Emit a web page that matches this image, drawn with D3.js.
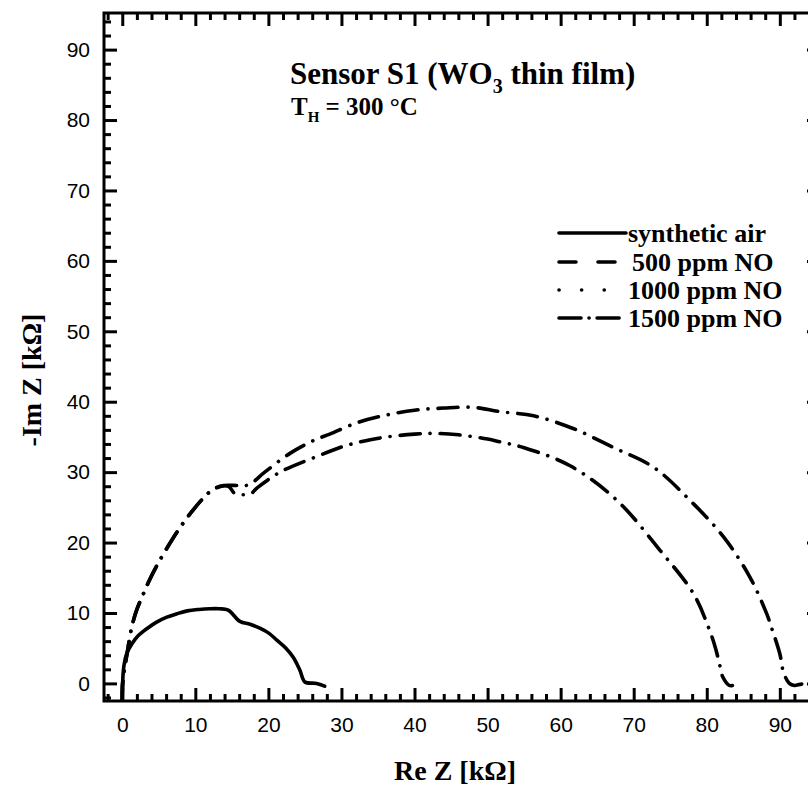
<!DOCTYPE html>
<html>
<head>
<meta charset="utf-8">
<script src="https://cdn.jsdelivr.net/npm/d3@7"></script>
<style>
  body { margin: 0; background: #fff; }
  svg { display: block; }
  .tick text { font-family: "Liberation Sans", Arial, sans-serif; font-size: 21px; fill: #000; }
  .tick line { stroke: #000; stroke-width: 3; }
  .serif { font-family: "Liberation Serif", "Times New Roman", serif; font-weight: bold; fill: #000; }
</style>
</head>
<body>
<div id="chart"></div>
<script>
// Nyquist data: [Re Z, -Im Z] in kOhm
var airData = [[0,-2.5],[0.05,0],[0.2,2.3],[0.6,4.2],[1.3,5.6],[2.2,6.8],[3.4,7.8],[4.7,8.7],
  [6.1,9.4],[7.5,9.9],[8.9,10.3],[10.5,10.5],[12,10.6],[13.3,10.6],[14.5,10.4],[16.1,8.8],
  [17.5,8.4],[18.9,7.8],[20.1,7.1],[21.2,6.1],[22.4,5.0],[23.4,3.7],[24.3,1.9],[25,0.2],
  [26.6,0.0],[27.7,-0.4]];

var noInner = [[0,-2.5],[0.05,0],[0.3,2],[0.7,4.5],[1.3,8],[2,10.5],[2.8,12.5],[3.6,14.4],
  [4.75,16.75],[6,19],[7.5,21.5],[9,23.7],[11,26.2],[12.5,27.6],[14.5,28],[15.4,27],
  [17.5,26.9],[18.5,27.8],[21.6,30.0],[26.6,32.2],[29.8,33.5],[33,34.4],[36.2,35.0],
  [40,35.4],[42.5,35.5],[46,35.3],[50,34.7],[51.7,34.3],[54.9,33.5],[61.3,30.9],
  [67.7,26],[73.6,18.9],[78.2,12.7],[80.4,7.5],[81.2,5.0],[81.8,2.5],[82.2,0.9],
  [83.1,-0.3],[83.5,-0.3]];

var noOuter = [[0,-2.5],[0.05,0],[0.3,2],[0.7,4.5],[1.3,8],[2,10.5],[2.8,12.5],[3.6,14.4],
  [4.75,16.75],[6,19],[7.5,21.5],[9,23.7],[11,26.2],[12.5,27.6],[13.9,28.1],[16,28.1],
  [17.3,28.2],[19.5,30],[23,32.7],[26.2,34.5],[28.4,35.4],[32.1,37.0],[35.7,38.0],
  [40,38.8],[44,39.1],[48,39.2],[51.7,38.6],[56.3,38.0],[61.7,36.2],[67.2,33.5],
  [72.7,30.7],[77.7,26.0],[82.3,20.8],[85.9,15.1],[88.2,9.9],[88.9,7.8],[90,4.2],
  [90.5,1.6],[91.3,0],[92,-0.3],[93,-0.1],[94,-0.3]];

var legendLabels = ["synthetic air", "500 ppm NO", "1000 ppm NO", "1500 ppm NO"];
var majorTicks = [0,10,20,30,40,50,60,70,80,90];
var minorTicks = [-2,2,4,6,8,12,14,16,18,22,24,26,28,32,34,36,38,42,44,46,48,
  52,54,56,58,62,64,66,68,72,74,76,78,82,84,86,88,92,94];

var svgWidth = 808;
var svgHeight = 787;
var plot = { left: 104, right: 820, top: 13, bottom: 701 };

var svg = d3.select("#chart")
  .append("svg")
  .attr("width", svgWidth)
  .attr("height", svgHeight);

var x = d3.scaleLinear().domain([-2.5, 95.5]).range([plot.left, plot.right]);
var y = d3.scaleLinear().domain([-2.5, 95.2]).range([plot.bottom, plot.top]);

svg.append("defs").append("clipPath").attr("id", "clip")
  .append("rect")
  .attr("x", plot.left).attr("y", plot.top)
  .attr("width", plot.right - plot.left).attr("height", plot.bottom - plot.top);

// line styles
var styles = {
  solid: null,
  dash: "17 22",
  dot: "0.1 22.5",
  dashdot: "20 10 0.1 10"
};
var legendStyles = [styles.solid, styles.dash, styles.dot, "22 8 0.1 8"];

var lineAny = d3.line().x(d => x(d[0])).y(d => y(d[1])).curve(d3.curveCatmullRom.alpha(0.5));

var curves = svg.append("g").attr("clip-path", "url(#clip)");

[[noOuter, styles.dashdot], [noInner, styles.dashdot], [airData, styles.solid]].forEach(function(s) {
  curves.append("path")
    .datum(s[0])
    .attr("d", lineAny)
    .attr("fill", "none")
    .attr("stroke", "#000")
    .attr("stroke-width", 3.6)
    .attr("stroke-linecap", "round")
    .attr("stroke-linejoin", "round")
    .attr("stroke-dasharray", s[1]);
});

// axes: inward ticks, majors and minors
function addAxis(axisFn, scale, transform, labels) {
  var g = svg.append("g").attr("transform", transform);
  g.call(axisFn(scale).tickValues(minorTicks).tickSize(-7).tickFormat(""));
  var gm = svg.append("g").attr("transform", transform);
  var ax = axisFn(scale).tickValues(majorTicks).tickSize(-13);
  if (labels) ax.tickPadding(labels).tickFormat(d3.format("d"));
  else ax.tickFormat("");
  gm.call(ax);
  g.select(".domain").remove();
  gm.select(".domain").remove();
  return gm;
}

addAxis(d3.axisBottom, x, `translate(0, ${plot.bottom})`, 16);
addAxis(d3.axisTop, x, `translate(0, ${plot.top})`, null);
addAxis(d3.axisLeft, y, `translate(${plot.left}, 0)`, 14);
addAxis(d3.axisRight, y, `translate(${plot.right}, 0)`, null);

svg.append("rect")
  .attr("x", plot.left).attr("y", plot.top)
  .attr("width", plot.right - plot.left).attr("height", plot.bottom - plot.top)
  .attr("fill", "none").attr("stroke", "#000").attr("stroke-width", 3);

// axis titles
svg.append("text")
  .attr("class", "serif")
  .attr("x", 455).attr("y", 780)
  .attr("text-anchor", "middle")
  .style("font-size", "28px")
  .text("Re Z [k\u03A9]");

svg.append("text")
  .attr("class", "serif")
  .attr("transform", "translate(41, 380) rotate(-90)")
  .attr("text-anchor", "middle")
  .style("font-size", "28px")
  .text("-Im Z [k\u03A9]");

// title
var title = svg.append("text")
  .attr("class", "serif")
  .attr("x", 290).attr("y", 84)
  .style("font-size", "31px");
title.append("tspan").text("Sensor S1 (WO");
title.append("tspan").attr("dy", 9).style("font-size", "20px").text("3");
title.append("tspan").attr("dy", -9).text(" thin film)");

var temp = svg.append("text")
  .attr("class", "serif")
  .attr("x", 291).attr("y", 115)
  .style("font-size", "25px");
temp.append("tspan").text("T");
temp.append("tspan").attr("dy", 7).style("font-size", "15px").text("H");
temp.append("tspan").attr("dy", -7).text(" = 300 \u00B0C");

// legend
var legendY = [233, 262, 290, 318];
legendLabels.forEach(function(label, i) {
  svg.append("line")
    .attr("x1", 559).attr("x2", 626)
    .attr("y1", legendY[i]).attr("y2", legendY[i])
    .attr("stroke", "#000")
    .attr("stroke-width", 3.6)
    .attr("stroke-linecap", "round")
    .attr("stroke-dasharray", legendStyles[i]);
  svg.append("text")
    .attr("class", "serif")
    .attr("x", i == 1 ? 632 : 628).attr("y", legendY[i] + 9)
    .style("font-size", "26px")
    .text(label);
});
</script>
</body>
</html>
